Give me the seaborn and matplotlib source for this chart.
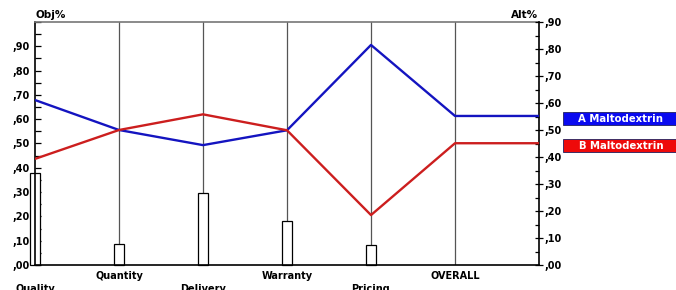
import numpy as np
import pandas as pd
import matplotlib
matplotlib.use("Agg")
import matplotlib.pyplot as plt
import matplotlib.transforms as mtrans
from matplotlib.patches import Rectangle
from matplotlib.ticker import MultipleLocator, FuncFormatter
import seaborn as sns

# ---- data ----
criteria = ["Quality", "Quantity", "Delivery", "Warranty", "Pricing", "OVERALL"]
priorities = [0.38, 0.088, 0.295, 0.182, 0.082]          # Obj% (bars)
alt_a = [0.611, 0.500, 0.444, 0.499, 0.815, 0.552]        # Alt% A
alt_b = [0.393, 0.500, 0.558, 0.499, 0.185, 0.451]        # Alt% B
alternatives = ["A Maltodextrin", "B Maltodextrin"]
line_colors = ["#1414c0", "#cc1e1e"]
box_colors = ["#0a0af0", "#ee0a0a"]

sns.set_style("white")
plt.rcParams["font.family"] = ["DejaVu Sans"]
plt.rcParams["font.weight"] = "bold"
plt.rcParams["text.color"] = "black"
plt.rcParams["xtick.color"] = "black"
plt.rcParams["ytick.color"] = "black"
plt.rcParams["axes.labelcolor"] = "black"

W, H = 676, 290
fig = plt.figure(figsize=(W / 100, H / 100), dpi=100)
L, R, B, T = 35, 539, 265, 22
ax = fig.add_axes([L / W, (H - B) / H, (R - L) / W, (B - T) / H])
ax2 = ax.twinx()

pos = np.arange(len(criteria))

# criterion vertical lines
for i in pos[1:]:
    ax.axvline(i, color="#555555", lw=0.9, zorder=1)

# bars (criterion priorities)
bar_df = pd.DataFrame({"pos": pos[:-1], "p": priorities})
sns.barplot(data=bar_df, x="pos", y="p", native_scale=True, width=0.11,
            color="white", edgecolor="black", linewidth=0.9, ax=ax,
            saturation=1, zorder=2)
for p in ax.patches:
    p.set_clip_on(False)
    p.set_facecolor("white")

# alternative lines (extended flat to right edge)
ext_pos = list(pos) + [len(criteria)]
rows = []
for name, vals in zip(alternatives, [alt_a, alt_b]):
    ext_vals = list(vals) + [vals[-1]]
    for x, v in zip(ext_pos, ext_vals):
        rows.append({"alt": name, "pos": x, "val": v})
line_df = pd.DataFrame(rows)
sns.lineplot(data=line_df, x="pos", y="val", hue="alt", palette=line_colors,
             linewidth=1.7, ax=ax2, legend=False, zorder=5)

# axes limits / ticks
ax.set_xlim(0, len(criteria))
ax.set_ylim(0, 1.0)
ax2.set_ylim(0, 0.9)
ax.set_xticks([])
ax2.set_xticks([])
ax.set_xlabel("")
ax.set_ylabel("")
ax2.set_xlabel("")
ax2.set_ylabel("")

fmt = FuncFormatter(lambda v, _: "" if v > 0.951 else ",%02d" % int(round(v * 100)))
for a in (ax, ax2):
    a.yaxis.set_major_locator(MultipleLocator(0.1))
    a.yaxis.set_minor_locator(MultipleLocator(0.05))
    a.yaxis.set_major_formatter(fmt)

ax.tick_params(axis="y", which="both", direction="in", length=4.5, width=0.9,
               labelsize=7, pad=4, left=True, right=False, colors="black")
ax2.tick_params(axis="y", which="major", direction="inout", length=6, width=0.9,
                labelsize=7, pad=1, left=False, right=True, colors="black")
ax2.tick_params(axis="y", which="minor", direction="in", length=3, width=0.9,
                left=False, right=True, colors="black")
for lab in ax.get_yticklabels() + ax2.get_yticklabels():
    lab.set_fontweight("bold")

# spines
for a in (ax, ax2):
    for s in a.spines.values():
        s.set_visible(False)
ax.spines["left"].set_visible(True)
ax.spines["left"].set_color("black")
ax.spines["left"].set_linewidth(1.2)
ax.spines["bottom"].set_visible(True)
ax.spines["bottom"].set_color("black")
ax.spines["bottom"].set_linewidth(1.2)
ax.spines["top"].set_visible(True)
ax.spines["top"].set_color("#777777")
ax.spines["top"].set_linewidth(1.2)
ax2.spines["right"].set_visible(True)
ax2.spines["right"].set_color("black")
ax2.spines["right"].set_linewidth(1.2)

# criterion labels (alternating rows)
for i, c in enumerate(criteria):
    off = -11 if i % 2 else -24
    ax.annotate(c, xy=(i, 0), xycoords=("data", "axes fraction"),
                xytext=(0, off), textcoords="offset pixels",
                ha="center", va="center", fontsize=7, fontweight="bold",
                color="black", annotation_clip=False)

# axis titles
fig.text(L / W, 1 - 15 / H, "Obj%", ha="left", va="center", fontsize=7.5,
         fontweight="bold", color="black")
fig.text((R - 1) / W, 1 - 15 / H, "Alt%", ha="right", va="center", fontsize=7.5,
         fontweight="bold", color="black")

# alternative label boxes next to line ends
blend = mtrans.blended_transform_factory(fig.transFigure, ax2.transData)
box_h = 13 / 270
for name, vals, bc in zip(alternatives, [alt_a, alt_b], box_colors):
    yc = vals[-1] - 0.010
    rect = Rectangle((563 / W, yc - box_h / 2), (W - 563) / W, box_h,
                     transform=blend, facecolor=bc, edgecolor="#202060",
                     linewidth=0.6, clip_on=False, zorder=10)
    fig.add_artist(rect)
    fig.text(621 / W, yc, name, transform=blend, ha="center", va="center",
             color="white", fontsize=7.3, fontweight="bold", zorder=11)

fig.savefig("out.png", dpi=100)
